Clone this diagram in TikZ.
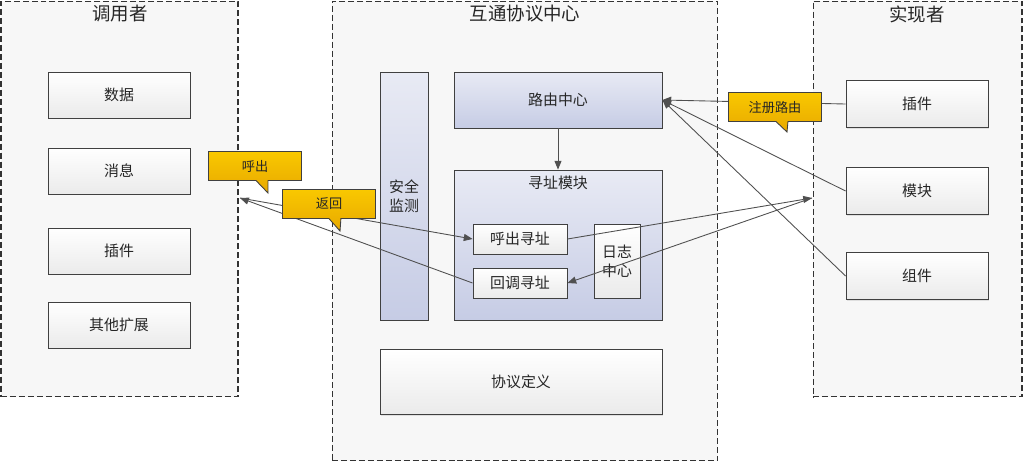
\documentclass[tikz,border=0pt]{standalone}
\usepackage{fontspec}
\setmainfont{Noto Sans CJK SC}
\usetikzlibrary{arrows.meta, shapes.callouts, shadows}
\definecolor{panelgray}{HTML}{F7F7F7}
\definecolor{edgegray}{HTML}{404040}
\definecolor{linegray}{HTML}{505050}
\definecolor{lavtop}{HTML}{E8EAF4}
\definecolor{lavbot}{HTML}{C6CCE5}
\definecolor{goldtop}{HTML}{F9C800}
\definecolor{goldbot}{HTML}{E8A900}

\begin{document}
\begin{tikzpicture}[
    x=0.02cm, y=-0.02cm,
    panel/.style={rectangle, draw=black!80, dash pattern=on 3.4pt off 1.7pt, fill=panelgray, line width=0.6pt},
    ptitle/.style={font=\fontsize{10.5}{13}\selectfont, text=black!85},
    item/.style={rectangle, draw=edgegray, line width=0.5pt, top color=white, bottom color=black!8, minimum width=2.84cm, minimum height=0.92cm, font=\fontsize{8.5}{11}\selectfont, text=black!85, align=center, drop shadow={shadow xshift=0.6pt, shadow yshift=-0.6pt, opacity=0.2}},
    lav/.style={item, top color=lavtop, bottom color=lavbot},
    sub/.style={item, minimum width=1.88cm, minimum height=0.6cm},
    tip/.style={rectangle callout, draw=edgegray, line width=0.5pt, top color=goldtop, bottom color=goldbot, minimum width=1.86cm, minimum height=0.58cm, font=\fontsize{7.5}{9}\selectfont, text=black!85, callout pointer width=0.24cm},
    link/.style={draw=linegray, line width=0.5pt, -{Triangle[length=5pt, width=4pt]}}
]
  \useasboundingbox (0,0) rectangle (1024,464);
  % panels
  \node[panel, minimum width=4.74cm, minimum height=7.92cm] (caller) at (119.5,199) {};
  \node[panel, minimum width=7.72cm, minimum height=9.2cm] (center) at (525,231) {};
  \node[panel, minimum width=4.18cm, minimum height=7.92cm] (impl) at (917.5,199) {};
  \node[ptitle] (tcaller) at (120,14) {调用者};
  \node[ptitle] (tcenter) at (525,14) {互通协议中心};
  \node[ptitle] (timpl) at (917,14) {实现者};
  % caller side
  \foreach \name/\y/\txt in {ldata/95/数据, lmsg/171/消息, lplug/251/插件, lext/325/其他扩展} {
    \node[item] (\name) at (119,\y) {\txt};
  }
  % protocol center
  \node[lav, minimum width=0.96cm, minimum height=4.96cm] (guard) at (404,196) {安全\\监测};
  \node[lav, minimum width=4.16cm, minimum height=1.12cm] (route) at (558,100) {路由中心};
  \node[lav, minimum width=4.16cm, minimum height=3.0cm] (addr) at (558,245) {};
  \node[font=\fontsize{8.5}{11}\selectfont, text=black!85] (taddr) at (558,183) {寻址模块};
  \node[sub] (out) at (520,239) {呼出寻址};
  \node[sub] (back) at (520,283) {回调寻址};
  \node[item, minimum width=0.92cm, minimum height=1.48cm] (log) at (617,261) {日志\\中心};
  \node[item, minimum width=5.64cm, minimum height=1.3cm] (proto) at (521,382) {协议定义};
  % implementer side
  \foreach \name/\y/\txt in {rplug/104/插件, rmod/191/模块, rcomp/276/组件} {
    \node[item, minimum height=0.94cm] (\name) at (917,\y) {\txt};
  }
  % links
  \coordinate (lgate) at (240,198);
  \coordinate (rgate) at (812,198);
  \draw[link] (route.south) -- (addr.north);
  \draw[link] (rplug.west) -- (route.east);
  \draw[link] (rmod.west) -- (route.east);
  \draw[link] (rcomp.west) -- (route.east);
  \draw[link] (lgate) -- (out.west);
  \draw[link] (back.west) -- (lgate);
  \draw[link] (out.east) -- (rgate);
  \draw[link] (rgate) -- (back.east);
  % callouts
  \node[tip, callout absolute pointer={(268,193)}] (tout) at (255,166) {呼出};
  \node[tip, callout absolute pointer={(340,231)}] (tback) at (329,204) {返回};
  \node[tip, callout absolute pointer={(787,132)}] (treg) at (775,107) {注册路由};
\end{tikzpicture}
\end{document}
